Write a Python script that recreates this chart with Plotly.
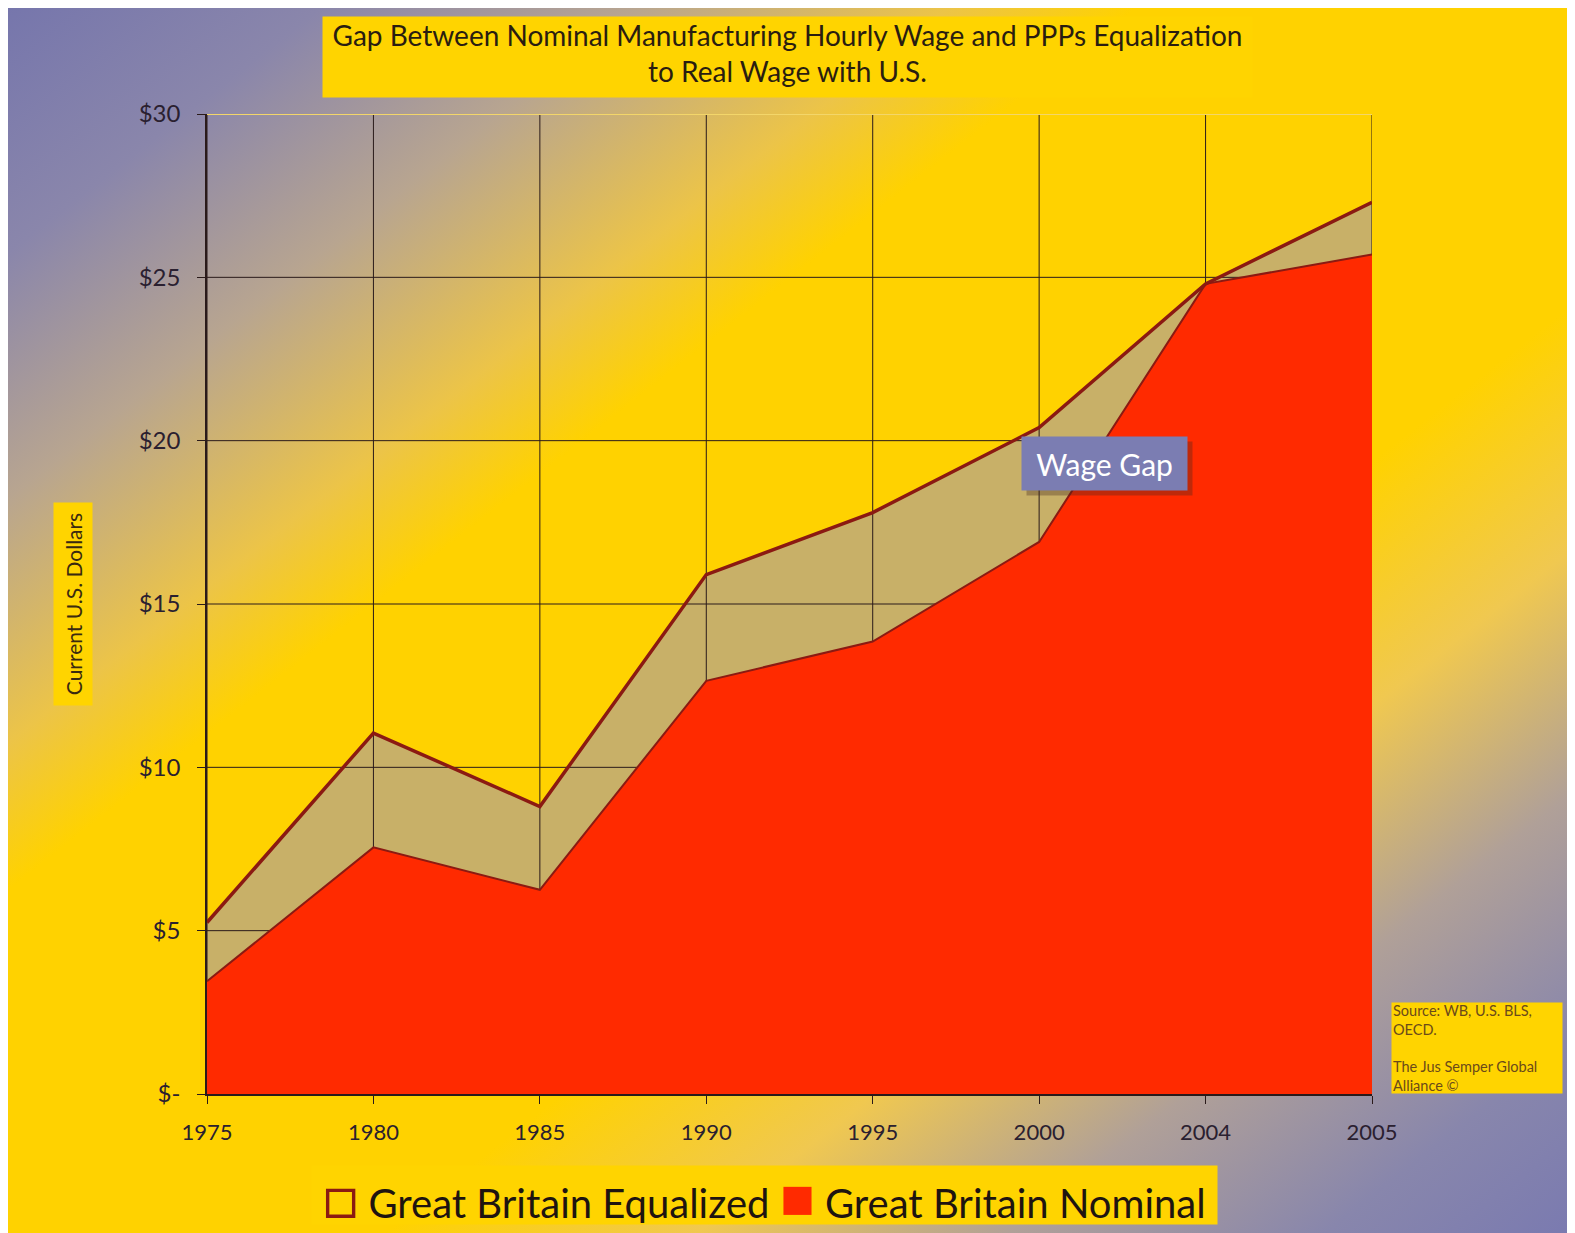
import base64
import plotly.graph_objects as go

# ---- data ----
years = ["1975", "1980", "1985", "1990", "1995", "2000", "2004", "2005"]
equalized = [5.25, 11.05, 8.8, 15.9, 17.8, 20.4, 24.8, 27.3]
nominal = [3.45, 7.55, 6.25, 12.65, 13.85, 16.9, 24.8, 25.7]
ytick_vals = [0, 5, 10, 15, 20, 25, 30]
ytick_text = ["$-", "$5", "$10", "$15", "$20", "$25", "$30"]
series_names = ["Great Britain Equalized", "Great Britain Nominal"]

# ---- geometry (page is offset by the 8px body margin) ----
OFF = 8
W, H = 1575 - OFF, 1233 - OFF
L, T = 207 - OFF, 114 - OFF
R = W - (1372 - OFF)
B = H - (1094 - OFF)
PW, PH = W - L - R, H - T - B


def px(x):  # page x -> paper
    return (x - OFF - L) / PW


def py(y):  # page y -> paper
    return (H - B - (y - OFF)) / PH


FONT = "Lato, 'Open Sans', sans-serif"
DARK = "#2a2030"
LINE = "#8b1a12"
RED = "#ff2a00"
TAN = "#c8b068"
GOLD = "#ffd400"

# ---- background gradient image ----
stops = [(0.00, "#7676ac"), (0.10, "#8a86ab"), (0.20, "#b8a590"), (0.30, "#ecc448"),
         (0.36, "#ffd200"), (0.62, "#ffd200"), (0.72, "#f0c850"), (0.82, "#b0a098"),
         (0.92, "#8886ac"), (1.00, "#7a7ab0")]
stop_xml = "".join(f"<stop offset='{o}' stop-color='{c}'/>" for o, c in stops)
svg = (f"<svg xmlns='http://www.w3.org/2000/svg' width='{W}' height='{H}' preserveAspectRatio='none'>"
       "<defs><linearGradient id='g' x1='0' y1='0' x2='1' y2='1'>" + stop_xml +
       f"</linearGradient></defs><rect width='{W}' height='{H}' fill='url(#g)'/></svg>")
src = "data:image/svg+xml;base64," + base64.b64encode(svg.encode()).decode()

fig = go.Figure()

# equalized area (tan, down to zero)
fig.add_trace(go.Scatter(x=years, y=equalized, mode="lines", fill="tozeroy",
                         fillcolor=TAN, line=dict(color=LINE, width=0),
                         name=series_names[0], showlegend=False, hoverinfo="skip"))

# grid lines built from tick arrays (drawn over tan, under red)
gx, gy = [], []
for v in ytick_vals[1:-1]:
    gx += [years[0], years[-1], None]
    gy += [v, v, None]
for yr in years:
    gx += [yr, yr, None]
    gy += [ytick_vals[0], ytick_vals[-1], None]
fig.add_trace(go.Scatter(x=gx, y=gy, mode="lines", line=dict(color="#2a1a1a", width=1),
                         showlegend=False, hoverinfo="skip"))
fig.add_trace(go.Scatter(x=[years[0], years[-1]], y=[ytick_vals[-1]] * 2, mode="lines",
                         line=dict(color="#f3d66a", width=2), showlegend=False, hoverinfo="skip"))

# nominal area (red)
fig.add_trace(go.Scatter(x=years, y=nominal, mode="lines", fill="tozeroy",
                         fillcolor=RED, line=dict(color=LINE, width=2),
                         name=series_names[1], showlegend=False, hoverinfo="skip"))
# equalized line on top
fig.add_trace(go.Scatter(x=years, y=equalized, mode="lines",
                         line=dict(color=LINE, width=3.5), showlegend=False, hoverinfo="skip"))

annotations = [
    # title
    dict(x=px(787), y=py(57), xref="paper", yref="paper", showarrow=False,
         text="Gap Between Nominal Manufacturing Hourly Wage and PPPs Equalization<br>to Real Wage with U.S.",
         font=dict(family=FONT, size=28, color="#2a1d10"), bgcolor=GOLD, valign="top",
         width=927, height=78, xanchor="center", yanchor="middle"),
    # y title
    dict(x=px(73), y=py(604), xref="paper", yref="paper", showarrow=False,
         text="Current U.S. Dollars", textangle=-90,
         font=dict(family=FONT, size=21, color="#3a2a10"), bgcolor=GOLD,
         width=200, height=36, xanchor="center", yanchor="middle"),
    # wage gap shadow
    dict(x=px(1109), y=py(468), xref="paper", yref="paper", showarrow=False, text=" ",
         bgcolor="rgba(70,40,30,0.35)", width=163, height=51, xanchor="center", yanchor="middle"),
    # wage gap
    dict(x=px(1104), y=py(463), xref="paper", yref="paper", showarrow=False, text="Wage Gap",
         font=dict(family=FONT, size=30, color="white"), bgcolor="#7b7db2",
         width=163, height=51, xanchor="center", yanchor="middle"),
    # source
    dict(x=px(1391), y=py(1002), xref="paper", yref="paper", showarrow=False,
         text="Source: WB, U.S. BLS,<br>OECD.<br><br>The Jus Semper Global<br>Alliance ©",
         font=dict(family=FONT, size=14.5, color="#6b4a1a"), bgcolor=GOLD, align="left",
         width=168, height=88, xanchor="left", yanchor="top"),
    # legend
    dict(x=px(764), y=py(1195), xref="paper", yref="paper", showarrow=False,
         text=(f"<span style='color:{LINE};font-size:58px'>□</span> {series_names[0]} "
               f"<span style='color:{RED};font-size:58px'>■</span> {series_names[1]}"),
         font=dict(family=FONT, size=40, color="#1e1410"), bgcolor=GOLD,
         width=903, height=56, xanchor="center", yanchor="middle"),
]

fig.update_layout(
    width=W, height=H,
    margin=dict(l=L, r=R, t=T, b=B, pad=0),
    paper_bgcolor="white", plot_bgcolor="rgba(0,0,0,0)",
    showlegend=False,
    font=dict(family=FONT, color=DARK),
    xaxis=dict(type="category", range=[0, len(years) - 1], showgrid=False,
               showline=True, linecolor="#2a1a1a", linewidth=1.5,
               ticks="outside", ticklen=8, tickcolor="#2a1a1a",
               tickfont=dict(family=FONT, size=22, color=DARK), ticklabelstandoff=10),
    yaxis=dict(range=[0, 30], tickvals=ytick_vals, ticktext=ytick_text, showgrid=False,
               zeroline=False, showline=True, linecolor="#2a1a1a", linewidth=1.5,
               ticks="outside", ticklen=8, tickcolor="#2a1a1a",
               tickfont=dict(family=FONT, size=24, color=DARK), ticklabelstandoff=12),
    images=[dict(source=src, xref="paper", yref="paper", x=px(OFF), y=py(OFF),
                 sizex=W / PW, sizey=H / PH, xanchor="left", yanchor="top",
                 sizing="stretch", layer="below")],
    annotations=annotations,
)

fig.write_html("out.html")
